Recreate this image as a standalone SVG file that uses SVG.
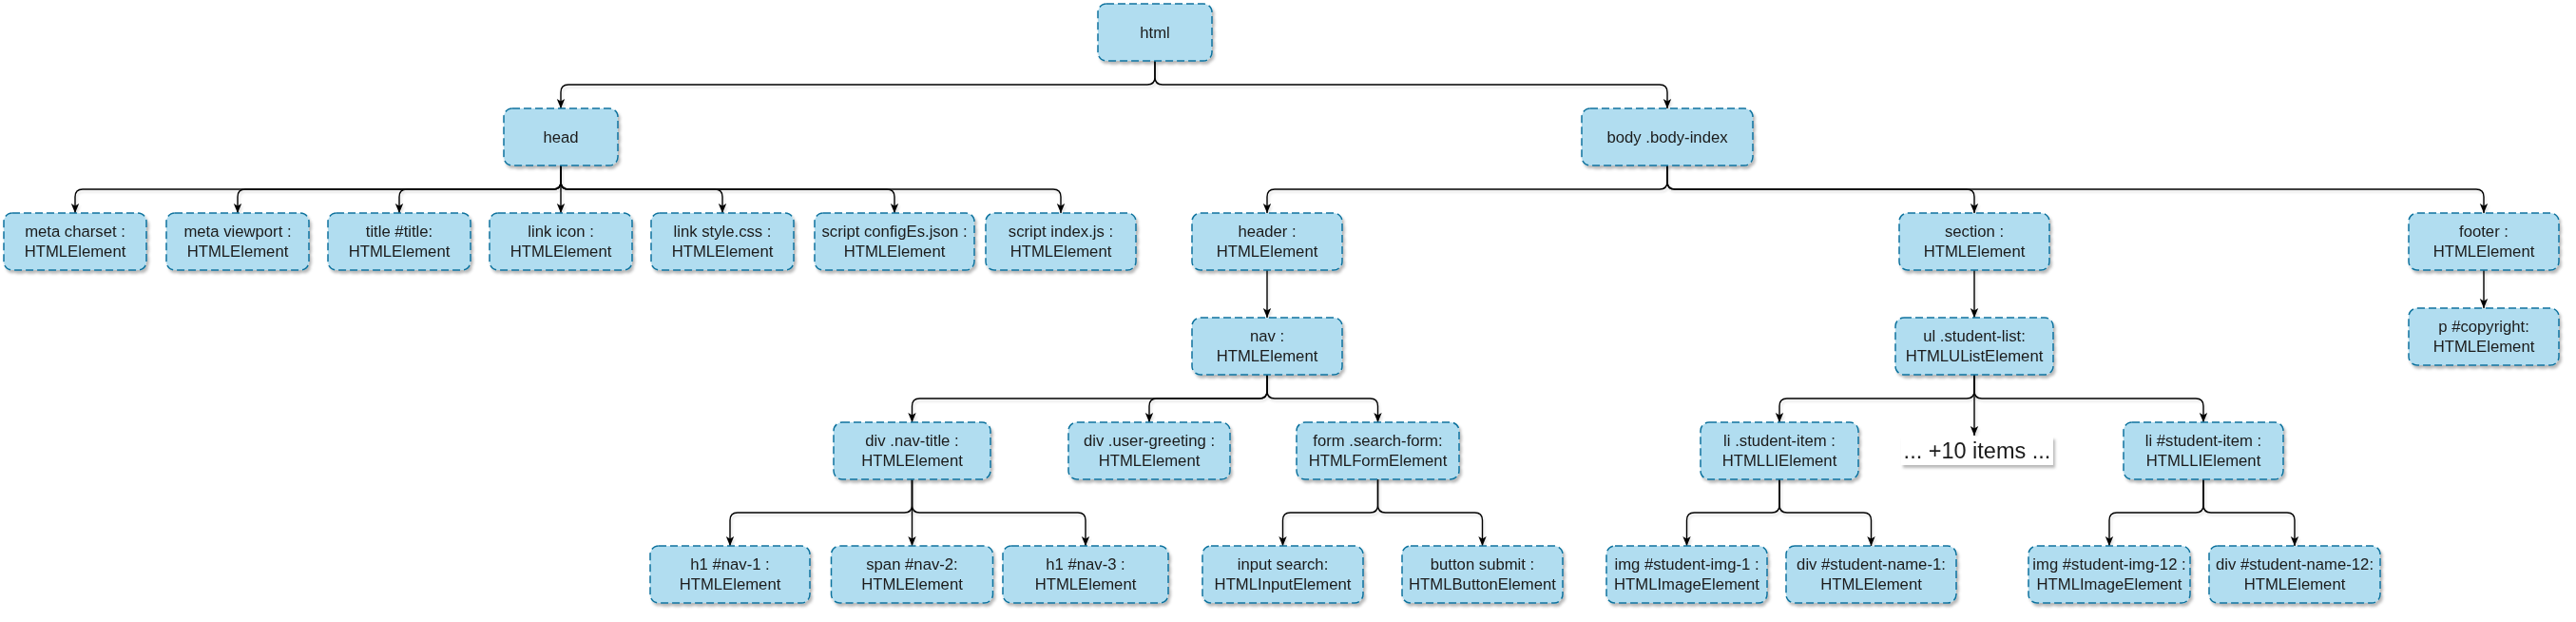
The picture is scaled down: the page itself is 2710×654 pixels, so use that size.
<svg xmlns="http://www.w3.org/2000/svg" width="2710" height="654" viewBox="0 0 2710 654">
<defs>
<style>
.n rect{fill:#b1ddf0;stroke:#10739e;stroke-width:1.5;stroke-dasharray:8 4;}
.n text,.more text{font-family:"Liberation Sans",Arial,Helvetica,sans-serif;font-size:16.7px;fill:#1a1a1a;text-anchor:middle;}
.more rect{fill:#ffffff;stroke:none;}
.more text{font-size:23.5px;}
.n,.more{filter:url(#sh);}
#edges path{fill:none;stroke:#000;stroke-width:1.4;marker-end:url(#arr);}
</style>
<filter id="sh" x="-10%" y="-10%" width="130%" height="140%">
<feDropShadow dx="2" dy="3" stdDeviation="1.6" flood-color="#000" flood-opacity="0.28"/>
</filter>
<filter id="esh" x="-5%" y="-50%" width="110%" height="200%">
<feDropShadow dx="1.5" dy="2.5" stdDeviation="1" flood-color="#000" flood-opacity="0.12"/>
</filter>
<marker id="arr" markerUnits="userSpaceOnUse" markerWidth="12" markerHeight="12" refX="10" refY="5" orient="auto">
<path d="M0,0.8 L10,5 L0,9.2 L2.5,5 z" fill="#000" stroke="none"/>
</marker>
</defs>
<rect width="2710" height="654" fill="#ffffff"/>

<g id="edges" filter="url(#esh)">
<path d="M1215,64 V81 Q1215,89 1207,89 H598 Q590,89 590,97 V114"/>
<path d="M1215,64 V81 Q1215,89 1223,89 H1746 Q1754,89 1754,97 V114"/>

<path d="M590,174 V191 Q590,199 582,199 H87 Q79,199 79,207 V224"/>
<path d="M590,174 V191 Q590,199 582,199 H258 Q250,199 250,207 V224"/>
<path d="M590,174 V191 Q590,199 582,199 H428 Q420,199 420,207 V224"/>
<path d="M590,174 V224"/>
<path d="M590,174 V191 Q590,199 598,199 H752 Q760,199 760,207 V224"/>
<path d="M590,174 V191 Q590,199 598,199 H933 Q941,199 941,207 V224"/>
<path d="M590,174 V191 Q590,199 598,199 H1108 Q1116,199 1116,207 V224"/>

<path d="M1754,174 V191 Q1754,199 1746,199 H1341 Q1333,199 1333,207 V224"/>
<path d="M1754,174 V191 Q1754,199 1762,199 H2069 Q2077,199 2077,207 V224"/>
<path d="M1754,174 V191 Q1754,199 1762,199 H2605 Q2613,199 2613,207 V224"/>

<path d="M1333,284 V334"/>
<path d="M2077,284 V334"/>
<path d="M2613,284 V324"/>

<path d="M1333,394 V411 Q1333,419 1325,419 H967.5 Q959.5,419 959.5,427 V444"/>
<path d="M1333,394 V411 Q1333,419 1325,419 H1217 Q1209,419 1209,427 V444"/>
<path d="M1333,394 V411 Q1333,419 1341,419 H1441.5 Q1449.5,419 1449.5,427 V444"/>

<path d="M2077,394 V411 Q2077,419 2069,419 H1880 Q1872,419 1872,427 V444"/>
<path d="M2077,394 V458"/>
<path d="M2077,394 V411 Q2077,419 2085,419 H2310 Q2318,419 2318,427 V444"/>

<path d="M959.5,504 V531 Q959.5,539 951.5,539 H776 Q768,539 768,547 V574"/>
<path d="M959.5,504 V574"/>
<path d="M959.5,504 V531 Q959.5,539 967.5,539 H1134 Q1142,539 1142,547 V574"/>

<path d="M1449.5,504 V531 Q1449.5,539 1441.5,539 H1357.5 Q1349.5,539 1349.5,547 V574"/>
<path d="M1449.5,504 V531 Q1449.5,539 1457.5,539 H1551.5 Q1559.5,539 1559.5,547 V574"/>

<path d="M1872,504 V531 Q1872,539 1864,539 H1782.5 Q1774.5,539 1774.5,547 V574"/>
<path d="M1872,504 V531 Q1872,539 1880,539 H1960.5 Q1968.5,539 1968.5,547 V574"/>

<path d="M2318,504 V531 Q2318,539 2310,539 H2227 Q2219,539 2219,547 V574"/>
<path d="M2318,504 V531 Q2318,539 2326,539 H2406 Q2414,539 2414,547 V574"/>
</g>

<g id="html" class="n"><rect x="1155" y="4" width="120" height="60" rx="9"/><text x="1215" y="40">html</text></g>
<g id="head" class="n"><rect x="530" y="114" width="120" height="60" rx="9"/><text x="590" y="150">head</text></g>
<g id="body" class="n"><rect x="1664" y="114" width="180" height="60" rx="9"/><text x="1754" y="150">body .body-index</text></g>

<g id="meta-charset" class="n"><rect x="4" y="224" width="150" height="60" rx="9"/><text x="79" y="249">meta charset :</text><text x="79" y="270">HTMLElement</text></g>
<g id="meta-viewport" class="n"><rect x="175" y="224" width="150" height="60" rx="9"/><text x="250" y="249">meta viewport :</text><text x="250" y="270">HTMLElement</text></g>
<g id="title" class="n"><rect x="345" y="224" width="150" height="60" rx="9"/><text x="420" y="249">title #title:</text><text x="420" y="270">HTMLElement</text></g>
<g id="link-icon" class="n"><rect x="515" y="224" width="150" height="60" rx="9"/><text x="590" y="249">link icon :</text><text x="590" y="270">HTMLElement</text></g>
<g id="link-style" class="n"><rect x="685" y="224" width="150" height="60" rx="9"/><text x="760" y="249">link style.css :</text><text x="760" y="270">HTMLElement</text></g>
<g id="script-config" class="n"><rect x="857" y="224" width="168" height="60" rx="9"/><text x="941" y="249">script configEs.json :</text><text x="941" y="270">HTMLElement</text></g>
<g id="script-index" class="n"><rect x="1037" y="224" width="158" height="60" rx="9"/><text x="1116" y="249">script index.js :</text><text x="1116" y="270">HTMLElement</text></g>
<g id="header" class="n"><rect x="1254" y="224" width="158" height="60" rx="9"/><text x="1333" y="249">header :</text><text x="1333" y="270">HTMLElement</text></g>
<g id="section" class="n"><rect x="1998" y="224" width="158" height="60" rx="9"/><text x="2077" y="249">section :</text><text x="2077" y="270">HTMLElement</text></g>
<g id="footer" class="n"><rect x="2534" y="224" width="158" height="60" rx="9"/><text x="2613" y="249">footer :</text><text x="2613" y="270">HTMLElement</text></g>

<g id="nav" class="n"><rect x="1254" y="334" width="158" height="60" rx="9"/><text x="1333" y="359">nav :</text><text x="1333" y="380">HTMLElement</text></g>
<g id="ul-student-list" class="n"><rect x="1994" y="334" width="166" height="60" rx="9"/><text x="2077" y="359">ul .student-list:</text><text x="2077" y="380">HTMLUListElement</text></g>
<g id="p-copyright" class="n"><rect x="2534" y="324" width="158" height="60" rx="9"/><text x="2613" y="349">p #copyright:</text><text x="2613" y="370">HTMLElement</text></g>

<g id="div-nav-title" class="n"><rect x="877" y="444" width="165" height="60" rx="9"/><text x="959.5" y="469">div .nav-title :</text><text x="959.5" y="490">HTMLElement</text></g>
<g id="div-user-greeting" class="n"><rect x="1124" y="444" width="170" height="60" rx="9"/><text x="1209" y="469">div .user-greeting :</text><text x="1209" y="490">HTMLElement</text></g>
<g id="form-search" class="n"><rect x="1364" y="444" width="171" height="60" rx="9"/><text x="1449.5" y="469">form .search-form:</text><text x="1449.5" y="490">HTMLFormElement</text></g>
<g id="li-student-item" class="n"><rect x="1789" y="444" width="166" height="60" rx="9"/><text x="1872" y="469">li .student-item :</text><text x="1872" y="490">HTMLLIElement</text></g>
<g id="more-items" class="more"><rect x="2000" y="459" width="160" height="30"/><text x="2080" y="482">... +10 items ...</text></g>
<g id="li-student-item-12" class="n"><rect x="2234" y="444" width="168" height="60" rx="9"/><text x="2318" y="469">li #student-item :</text><text x="2318" y="490">HTMLLIElement</text></g>

<g id="h1-nav-1" class="n"><rect x="684" y="574" width="168" height="60" rx="9"/><text x="768" y="599">h1 #nav-1 :</text><text x="768" y="620">HTMLElement</text></g>
<g id="span-nav-2" class="n"><rect x="874.5" y="574" width="170" height="60" rx="9"/><text x="959.5" y="599">span #nav-2:</text><text x="959.5" y="620">HTMLElement</text></g>
<g id="h1-nav-3" class="n"><rect x="1055" y="574" width="174" height="60" rx="9"/><text x="1142" y="599">h1 #nav-3 :</text><text x="1142" y="620">HTMLElement</text></g>
<g id="input-search" class="n"><rect x="1265" y="574" width="169" height="60" rx="9"/><text x="1349.5" y="599">input search:</text><text x="1349.5" y="620">HTMLInputElement</text></g>
<g id="button-submit" class="n"><rect x="1475" y="574" width="169" height="60" rx="9"/><text x="1559.5" y="599">button submit :</text><text x="1559.5" y="620">HTMLButtonElement</text></g>
<g id="img-student-1" class="n"><rect x="1690" y="574" width="169" height="60" rx="9"/><text x="1774.5" y="599">img #student-img-1 :</text><text x="1774.5" y="620">HTMLImageElement</text></g>
<g id="div-student-name-1" class="n"><rect x="1879" y="574" width="179" height="60" rx="9"/><text x="1968.5" y="599">div #student-name-1:</text><text x="1968.5" y="620">HTMLElement</text></g>
<g id="img-student-12" class="n"><rect x="2134" y="574" width="170" height="60" rx="9"/><text x="2219" y="599">img #student-img-12 :</text><text x="2219" y="620">HTMLImageElement</text></g>
<g id="div-student-name-12" class="n"><rect x="2324" y="574" width="180" height="60" rx="9"/><text x="2414" y="599">div #student-name-12:</text><text x="2414" y="620">HTMLElement</text></g>
</svg>
